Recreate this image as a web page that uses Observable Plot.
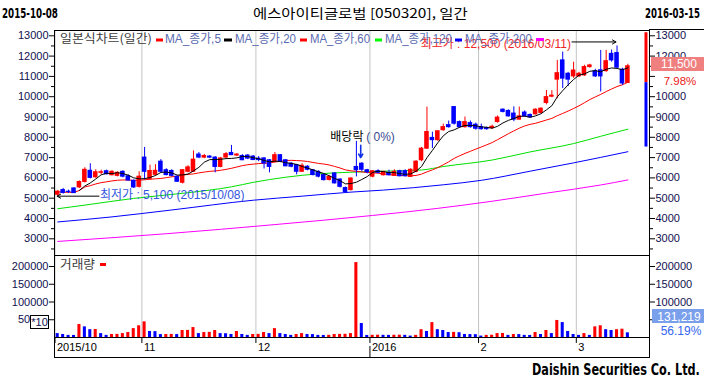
<!DOCTYPE html>
<html><head><meta charset="utf-8">
<script src="https://cdn.jsdelivr.net/npm/d3@7"></script>
<script src="https://cdn.jsdelivr.net/npm/@observablehq/plot@0.6"></script>
<style>
body{margin:0;background:#fff;width:704px;height:381px;overflow:hidden;position:relative;font-family:"Liberation Sans",Arial,sans-serif}
#main{position:absolute;left:0;top:29px}
#vol{position:absolute;left:0;top:255px}
#ov{position:absolute;left:0;top:0;pointer-events:none}
#main svg,#vol svg{background:transparent}
</style></head><body>
<div id="main"></div><div id="vol"></div>
<svg id="ov" width="704" height="381"></svg>
<script>
// ---- data ----
const monthIdx = [0, 16, 37, 58, 78, 96];
const monthLabels = ["2015/10", "11", "12", "2016", "2", "3"];
const open = [5170,5400,5320,5480,5530,5800,6350,6030,6250,6330,
 6130,6100,6300,6080,5860,5560,7000,5950,6150,6800,
 6380,6340,6060,5760,6300,6300,7150,7000,7050,7000,
 6540,7000,7230,7100,7080,7100,7050,6950,6960,6870,
 6790,7120,6870,6700,6630,6300,6550,6380,6300,6140,
 5900,6220,5920,5500,5400,6540,6700,6380,6060,6330,
 6130,6250,6100,6330,6330,6050,6300,6870,7440,7970,
 7860,8350,8600,9490,8750,8500,8700,8620,8500,8450,
 8450,8750,9360,9300,9170,8870,9220,9100,9130,9200,
 9690,10000,10840,11790,11130,11000,11000,11050,11460,11250,
 11300,11260,12110,12150,11330,10680];
const high = [5380,5480,5400,5520,5850,6500,6700,6400,6380,6380,
 6350,6300,6350,6150,5900,6300,7500,6630,6650,6900,
 6450,6400,6100,6400,6600,7330,7250,7150,7100,7050,
 7000,7250,7600,7200,7150,7150,7100,7050,7000,6900,
 7250,7150,6900,6750,6650,6700,6600,6400,6350,6200,
 6100,6250,5950,5550,6000,7800,6750,6420,6350,6400,
 6320,6380,6400,6380,6400,6450,6850,7500,9490,8250,
 8300,8650,8800,9500,8800,9000,8800,8700,8650,8500,
 8600,9050,9400,9350,9500,9490,9300,9150,9400,9450,
 10310,10300,11790,12200,11200,11700,11200,11550,11600,11350,
 12280,12280,12300,12500,11400,11600];
const low = [5100,5200,5230,5230,5480,5750,5950,5980,6150,6150,
 6100,6050,6000,5850,5480,5500,5900,5900,6100,6250,
 6100,6050,5780,5700,6250,6280,6950,6950,6950,6250,
 6500,6950,7100,7050,6850,6900,6850,6800,6440,6250,
 6750,6750,6550,6500,6150,6280,6350,6100,6000,5850,
 5850,5700,5500,5250,5350,6050,6300,6200,6000,6200,
 6100,6100,6080,6050,6050,6030,6250,6800,7400,7450,
 7800,8300,8450,8600,8450,8450,8450,8350,8350,8350,
 8400,8700,9200,9000,8770,8850,9000,8950,9100,9150,
 9600,9950,9900,10400,10500,10900,10950,11000,11400,10950,
 10230,11200,11700,11400,10560,10650];
const close = [5320,5260,5300,5250,5800,6400,6000,6280,6280,6180,
 6300,6250,6060,5870,5530,6060,6300,6340,6350,6300,
 6140,6100,5810,6380,6520,6900,7000,7080,7000,6540,
 6960,7170,7120,7150,6870,6950,6880,6880,6710,6540,
 7120,6790,6570,6550,6300,6600,6400,6140,6060,5890,
 6050,5730,5560,5300,5970,6380,6400,6280,6330,6250,
 6300,6130,6300,6080,6080,6400,6800,7440,8260,7860,
 8300,8500,8500,8670,8500,8750,8500,8420,8400,8400,
 8520,8970,9250,9030,8870,9030,9030,8980,9360,9410,
 9980,10050,11160,10890,10840,11290,11130,11460,11540,11000,
 11000,11750,11790,11430,10650,11500];
// volume (axis units, x10 shares)
const volume = [11000,8500,6000,5800,36600,30000,22000,22500,11000,6000,
 8500,8800,11000,14000,25000,33000,44000,17000,16500,8200,
 8500,8800,8300,19700,20000,28000,11000,14000,14500,19700,
 11000,10500,8500,17000,8500,6000,8500,8800,14000,11000,
 25000,11000,8500,6000,8500,11000,8500,8200,6000,5800,
 6200,8500,8800,9000,11000,211000,39400,5800,6200,6500,
 6200,6000,6300,6600,6200,4000,6000,22000,17000,42000,
 22000,19700,14000,14500,13500,8500,8200,8000,4000,6000,
 6300,11000,11300,6000,8500,8200,6000,5800,14000,8500,
 19700,11000,48000,42000,17000,8500,6000,11000,6000,30000,
 33000,22000,19700,22000,23350,13122];
// long moving averages (index, value)
const ma60Idx = [0,5,14,24,32,36,48,54,60,67,71,80,87,95,100,105];
const ma60Val = [4480,4660,4990,5270,5560,5780,6200,6280,6330,6390,6560,6880,7280,7690,8050,8400];
const ma120Idx = [0,10,21,36,45,54,60,71,78,87,95,105];
const ma120Val = [3830,4080,4420,4900,5100,5300,5400,5660,5880,6330,6740,7290];
const ma200Idx = [0,20,40,58,70,80,90,100,105];
const ma200Val = [2870,3250,3700,4150,4500,4850,5250,5650,5900];
// annotations
const maxIdx = 103, maxVal = 12500, maxDate = "2016/03/11";
const minIdx = 0, minVal = 5100, minDate = "2015/10/08";
const divIdx = 56, divArrow = [7600, 7000], divText = 8030;
const sideBar = [7520, 10690, 13150];
const lastVolume = "131,219", volChange = "56.19%", priceChange = "7.98%";
// right-axis labels hidden behind the current-value boxes
const rightPriceTicks = [3000,4000,5000,6000,7000,8000,9000,10000,12000,13000];

// ---- chart ----
const RED = "#ff0000", BLUE = "#0000ff";
const N = close.length;
const rows = d3.range(N).map(i => ({i, o: open[i], h: high[i], l: low[i], c: close[i], v: volume[i],
  col: close[i] >= open[i] ? RED : BLUE,
  vcol: i > 0 && volume[i] >= volume[i - 1] ? RED : BLUE}));
const pts = (idx, val) => idx.map((d, k) => ({i: d, v: val[k]}));
const X = {type: "linear", domain: [0, 106], range: [54.5, 630.1], axis: null};
const cx = d => d.i + 0.5;
const FONT = "Liberation Sans, Arial, Noto Sans CJK KR, sans-serif";
const AX = "#101050";
const fmt = d3.format(",");

const main = Plot.plot({
  width: 704, height: 226, marginLeft: 54, marginRight: 55, marginTop: 1, marginBottom: 0,
  x: X,
  y: {domain: [3000, 13000], range: [209.3, 6.3], axis: null},
  color: {type: "identity"},
  style: {fontFamily: FONT, fontSize: "11px", background: "transparent", overflow: "visible"},
  marks: [
    Plot.ruleX(monthIdx, {x: d => d, stroke: "#c4c4c4"}),
    Plot.line(pts(ma200Idx, ma200Val), {x: cx, y: "v", stroke: "#ff00ff", strokeWidth: 1, curve: "monotone-x"}),
    Plot.line(pts(ma120Idx, ma120Val), {x: cx, y: "v", stroke: BLUE, strokeWidth: 1, curve: "monotone-x"}),
    Plot.line(pts(ma60Idx, ma60Val), {x: cx, y: "v", stroke: "#00e000", strokeWidth: 1, curve: "monotone-x"}),
    Plot.line(rows, Plot.windowY({k: 20, anchor: "end", reduce: "mean"}, {x: cx, y: "c", stroke: RED, strokeWidth: 1})),
    Plot.ruleX(rows, {x: cx, y1: "l", y2: "h", stroke: "col", strokeWidth: 1}),
    Plot.rect(rows, {x1: d => d.i + 0.08, x2: d => d.i + 0.92, y1: "o", y2: "c", fill: "col", insetTop: -0.5, insetBottom: -0.5}),
    Plot.line(rows, Plot.windowY({k: 5, anchor: "end", reduce: "mean", strict: true}, {x: cx, y: "c", stroke: "#000", strokeWidth: 1})),
    Plot.rect([{a: sideBar[1], b: sideBar[2], col: RED}, {a: sideBar[0], b: sideBar[1], col: BLUE}],
      {x1: 108.65, x2: 109.2, y1: "a", y2: "b", fill: "col"}),
    // annotations
    Plot.arrow([{}], {x1: maxIdx + 0.5 - 8.3, x2: maxIdx + 0.3, y1: maxVal, y2: maxVal, stroke: "#000", strokeWidth: 1, headLength: 6, dy: -4}),
    Plot.text([`최고가 : ${fmt(maxVal)} (${maxDate})`], {x: maxIdx + 0.5 - 8.3, y: maxVal, text: d => d, textAnchor: "end", dx: -1, dy: -2, fill: "#f02828", fontSize: 12}),
    Plot.arrow([{}], {x1: minIdx + 0.5 + 7.6, x2: minIdx + 0.4, y1: minVal, y2: minVal, stroke: "#000", strokeWidth: 1, headLength: 6}),
    Plot.text([`최저가 : ${fmt(minVal)} (${minDate})`], {x: minIdx + 0.5 + 7.6, y: minVal, text: d => d, textAnchor: "start", dx: 1, dy: -1, fill: "#3355dd", fontSize: 12}),
    Plot.arrow([{}], {x1: divIdx + 0.3, x2: divIdx + 0.3, y1: divArrow[0], y2: divArrow[1], stroke: "#1030e8", strokeWidth: 1.6, headLength: 6}),
    Plot.text(["배당락"], {x: divIdx + 0.5 - 5.8, y: divText, text: d => d, textAnchor: "start", fill: "#000", fontSize: 12}),
    Plot.text(["( 0%)"], {x: divIdx + 0.5 + 0.8, y: divText, text: d => d, textAnchor: "start", fill: "#3a4a90", fontSize: 12}),
    // axes
    Plot.axisY({anchor: "left", ticks: d3.range(3000, 13001, 1000), tickSize: 5, tickPadding: 1, tickFormat: "d", label: null, fill: AX, stroke: "#000"}),
    Plot.axisY({anchor: "left", ticks: d3.range(2500, 13000, 1000), tickSize: 3, tickFormat: () => "", label: null, stroke: "#000"}),
    Plot.axisY({anchor: "right", ticks: rightPriceTicks, tickSize: 5, tickPadding: 1, tickFormat: "d", label: null, fill: AX, stroke: "#000"}),
    Plot.axisY({anchor: "right", ticks: [11000], tickSize: 5, tickFormat: () => "", label: null, stroke: "#000"}),
    Plot.axisY({anchor: "right", ticks: d3.range(2500, 13000, 1000), tickSize: 3, tickFormat: () => "", label: null, stroke: "#000"}),
    Plot.frame({stroke: "#000"})
  ]
});
document.getElementById("main").append(main);

const vol = Plot.plot({
  width: 704, height: 103, marginLeft: 54, marginRight: 55, marginTop: 0, marginBottom: 1,
  x: X,
  y: {domain: [0, 200000], range: [82, 11], axis: null},
  color: {type: "identity"},
  style: {fontFamily: FONT, fontSize: "11px", background: "transparent", overflow: "visible"},
  marks: [
    Plot.ruleX(monthIdx, {x: d => d, y1: 0, y2: 231000, stroke: "#c4c4c4"}),
    Plot.rect(rows, {x1: d => d.i + 0.22, x2: d => d.i + 0.78, y1: 0, y2: "v", fill: "vcol"}),
    Plot.ruleY([0], {stroke: "#000"}),
    Plot.ruleX(monthIdx, {x: d => d, y1: 0, y2: -16900, stroke: "#000"}),
    Plot.ruleX([monthIdx[3]], {x: d => d, y1: -25300, y2: -56500, stroke: "#000"}),
    Plot.text(monthIdx, {x: d => d, text: (d, k) => monthLabels[k], frameAnchor: "bottom", dy: -7, dx: 2, textAnchor: "start", fill: "#000", fontSize: 11}),
    Plot.axisY({anchor: "left", ticks: [50000, 100000, 150000, 200000], tickSize: 5, tickPadding: 1, tickFormat: "d", label: null, fill: AX, stroke: "#000"}),
    Plot.axisY({anchor: "right", ticks: [100000, 150000, 200000], tickSize: 5, tickPadding: 1, tickFormat: "d", label: null, fill: AX, stroke: "#000"}),
    Plot.axisY({anchor: "right", ticks: [50000], tickSize: 5, tickFormat: () => "", label: null, stroke: "#000"}),
    Plot.frame({stroke: "#000"})
  ]
});
document.getElementById("vol").append(vol);

// ---- titles, legend, labels ----
const ov = d3.select("#ov");
const KR = "Noto Sans CJK KR, Liberation Sans, sans-serif";
const NARROW = "Liberation Sans Narrow, DejaVu Sans Condensed, Liberation Sans, sans-serif";
function txt(s, x, y, o = {}) {
  const t = ov.append("text").attr("x", x).attr("y", y).text(s)
    .attr("font-family", o.family || FONT).attr("font-size", o.size || 12)
    .attr("fill", o.fill || "#000").attr("text-anchor", o.anchor || "start");
  if (o.weight) t.attr("font-weight", o.weight);
  if (o.len) t.attr("textLength", o.len).attr("lengthAdjust", "spacingAndGlyphs");
  return t;
}
// squeeze a text horizontally to a given width (left edge x0)
function fitText(s, x0, y, w, o = {}) {
  const t = txt(s, 0, 0, o);
  const nat = t.node().getComputedTextLength() || w;
  t.attr("transform", `translate(${x0},${y}) scale(${(w / nat).toFixed(4)},1)`);
  return t;
}
function box(x, y, w, h, fill, stroke) {
  ov.append("rect").attr("x", x).attr("y", y).attr("width", w).attr("height", h)
    .attr("fill", fill || "none").attr("stroke", stroke || "none");
}
fitText("2015-10-08", 2, 18, 56, {family: NARROW, size: 14, weight: "bold"});
fitText("에스아이티글로벌 [050320], 일간", 253, 18, 215, {family: KR, size: 13});
fitText("2016-03-15", 645, 18, 55, {family: NARROW, size: 14, weight: "bold"});
ov.append("line").attr("x1", 649).attr("x2", 704).attr("y1", 29.5).attr("y2", 29.5).attr("stroke", "#000");

const LEG = "#5b6bb0";
txt("일본식차트(일간)", 60, 43, {family: KR, fill: "#3c3c3c", len: 92});
box(156, 38.5, 7, 3, RED);
txt("MA_종가,5", 165, 43, {fill: LEG, len: 56});
box(224, 38.5, 8, 3, "#000");
txt("MA_종가,20", 235, 43, {fill: LEG, len: 61});
box(300, 38.5, 7, 3, RED);
txt("MA_종가,60", 310, 43, {fill: LEG, len: 60});
box(375, 38.5, 7, 3, "#00ff00");
txt("MA_종가,120", 385, 43, {fill: LEG, len: 67});
box(455, 38.5, 7, 3, BLUE);
txt("MA_종가,200", 465, 43, {fill: LEG, len: 67});
box(536, 38, 8, 3, "#ff00ff");

box(651, 57, 53, 14, "#f08080");
txt(fmt(close[N - 1]), 679, 68, {fill: "#fff", anchor: "middle"});
txt(priceChange, 680, 84.5, {size: 11.5, fill: "#e81c1c", anchor: "middle"});

txt("거래량", 60, 268.5, {family: KR, fill: "#3c3c3c", len: 35});
box(100, 263, 6, 3, RED);
box(30.5, 315.5, 18, 13, "#fff", "#000");
txt("*10", 39.5, 326, {size: 11, fill: AX, anchor: "middle"});
box(652, 309, 52, 14, "#7aa0ec");
txt(lastVolume, 679, 320.5, {fill: "#fff", anchor: "middle"});
txt(volChange, 681, 335, {fill: "#3366ee", anchor: "middle"});

fitText("Daishin Securities Co. Ltd.", 532, 375, 168, {family: NARROW, size: 15, weight: "bold"});
</script>
</body></html>
